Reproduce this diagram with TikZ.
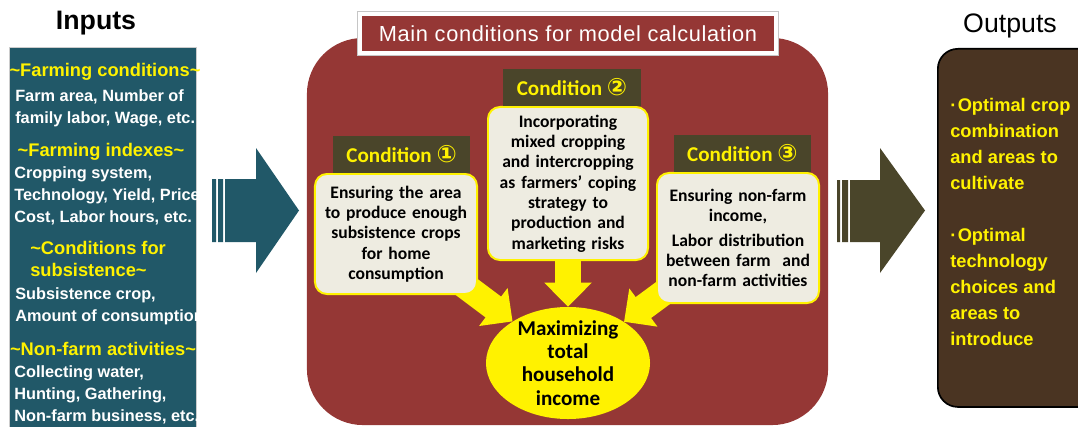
\documentclass[tikz,border=0pt]{standalone}
\usepackage{fontspec}
\setmainfont{Liberation Sans}
\newfontfamily\carlito{Carlito}
\newfontfamily\dejavu{DejaVu Sans}
\usepackage{tikz}
\usetikzlibrary{arrows.meta,shapes.geometric,positioning,backgrounds}
\definecolor{inteal}{HTML}{215868}
\definecolor{mainred}{HTML}{953735}
\definecolor{condolive}{HTML}{4A452A}
\definecolor{boxcream}{HTML}{EEECE1}
\definecolor{outbrown}{HTML}{4A3422}

\begin{document}
\begin{tikzpicture}[x=0.025cm, y=-0.025cm, >=latex,
	title/.style={font=\fontsize{19}{22}\selectfont},
	inhead/.style={text=yellow, font=\fontsize{13}{15.6}\selectfont\bfseries, inner sep=0pt, align=left},
	intext/.style={text=white, font=\fontsize{11.6}{15.6}\selectfont\bfseries, inner sep=0pt, align=left, anchor=west},
	condhead/.style={fill=condolive, text=yellow, font=\carlito\fontsize{15}{18}\selectfont\bfseries, minimum width=3.425cm, minimum height=0.925cm, inner sep=0pt},
	condbox/.style={fill=boxcream, draw=yellow, line width=1.4pt, rounded corners=0.3cm, align=center, font=\carlito\fontsize{12.5}{14.5}\selectfont\bfseries, inner sep=0.1cm},
	yarrow/.style={draw=yellow, line width=0.65cm, -{Triangle[width=1.15cm,length=0.6cm]}, shorten <=-0.6cm},
	outtext/.style={text=yellow, font=\fontsize{13}{18.5}\selectfont\bfseries, align=left, anchor=west, inner sep=0pt}]
	%\draw [help lines] (0,0) grid (1078,427);
	\useasboundingbox (0,0) rectangle (1078,427);
	\node [title] (intitle) at (96,23) {\bfseries Inputs};
	\node [title] (outtitle) at (1010,26) {Outputs};
	% inputs
	\node [fill=inteal, draw=gray!40, minimum width=4.675cm, minimum height=9.75cm, inner sep=0pt, anchor=north west] (inbox) at (9,47) {};
	\node [inhead] (h1) at (105,72) {\textasciitilde Farming conditions\textasciitilde};
	\node [intext] (t1) at (15,108) {Farm area, Number of\\family labor, Wage, etc.};
	\node [inhead] (h2) at (101,152) {\textasciitilde Farming indexes\textasciitilde};
	\node [intext] (t2) at (14,196) {Cropping system,\\Technology, Yield, Price,\\Cost, Labor hours, etc.};
	\node [inhead, anchor=west] (h3) at (30,259) {\textasciitilde Conditions for\\subsistence\textasciitilde};
	\node [intext] (t3) at (15,306) {Subsistence crop,\\Amount of consumption};
	\node [inhead] (h4) at (103,349) {\textasciitilde Non-farm activities\textasciitilde};
	\node [intext] (t4) at (14,395) {Collecting water,\\Hunting, Gathering,\\Non-farm business, etc.};
	% block arrows
	\fill [inteal] (212,179) rectangle (216,242) (218,179) rectangle (223,242);
	\fill [inteal] (225,179) -- (256,179) -- (256,148) -- (299,210.5) -- (256,273) -- (256,242) -- (225,242) -- cycle;
	\fill [condolive] (837,180) rectangle (840,242) (842,180) rectangle (848,242);
	\fill [condolive] (850,180) -- (880,180) -- (880,148) -- (925,210.5) -- (880,273) -- (880,242) -- (850,242) -- cycle;
	% model
	\begin{scope}[on background layer]
		\node [fill=mainred, rounded corners=1.4cm, minimum width=13.025cm, minimum height=9.675cm, inner sep=0pt] (main) at (567.5,231.5) {};
	\end{scope}
	\node [fill=mainred, draw=white, line width=0.09cm, preaction={draw=gray!45, line width=0.15cm}, minimum width=10.4cm, minimum height=0.975cm, text=white, font=\fontsize{15.5}{18}\selectfont] (maintitle) at (568,33.5) {\addfontfeature{LetterSpace=3}Main conditions for model calculation};
	\node [condbox, text width=3.85cm, minimum height=3cm] (box1) at (396,234) {Ensuring the area\\to produce enough\\subsistence crops\\for home\\consumption};
	\node [condbox, text width=3.8cm, minimum height=3.825cm] (box2) at (568,183.5) {Incorporating\\mixed cropping\\and intercropping\\as farmers’ coping\\strategy to\\production and\\marketing risks};
	\node [condbox, text width=3.85cm, minimum height=3.25cm] (box3) at (738,238) {Ensuring non-farm\\income,\\[3pt]Labor distribution\\between farm\ \ and\\non-farm activities};
	\node [condhead, above=0pt of box1, xshift=0.14cm] (cond1) {Condition {\dejavu\fontsize{17}{18}\selectfont ①}};
	\node [condhead, above=0pt of box2, xshift=0.1cm] (cond2) {Condition {\dejavu\fontsize{17}{18}\selectfont ②}};
	\node [condhead, above=0pt of box3, xshift=0.11cm] (cond3) {Condition {\dejavu\fontsize{17}{18}\selectfont ③}};
	\node [ellipse, fill=yellow, minimum width=4.1cm, minimum height=2.8cm, inner sep=0pt] (goal) at (568,363) {};
	\node [font=\carlito\fontsize{15}{16.5}\selectfont\bfseries, align=center] (goaltext) at (568,363) {Maximizing\\total\\household\\income};
	\begin{scope}[on background layer]
		\draw [yarrow] (box1) -- (goal);
		\draw [yarrow] (box2) -- (goal);
		\draw [yarrow] (box3) -- (goal);
	\end{scope}
	% outputs
	\node [fill=outbrown, draw=black, line width=1.2pt, rounded corners=0.5cm, minimum width=4.2cm, minimum height=8.95cm, inner sep=0pt, anchor=north west] (outbox) at (937,48) {};
	\node [outtext] (out1) at (950,143.5) {·\kern1pt Optimal crop\\combination\\and areas to\\cultivate};
	\node [outtext] (out2) at (950,287) {·\kern1pt Optimal\\technology\\choices and\\areas to\\introduce};
\end{tikzpicture}
\end{document}
